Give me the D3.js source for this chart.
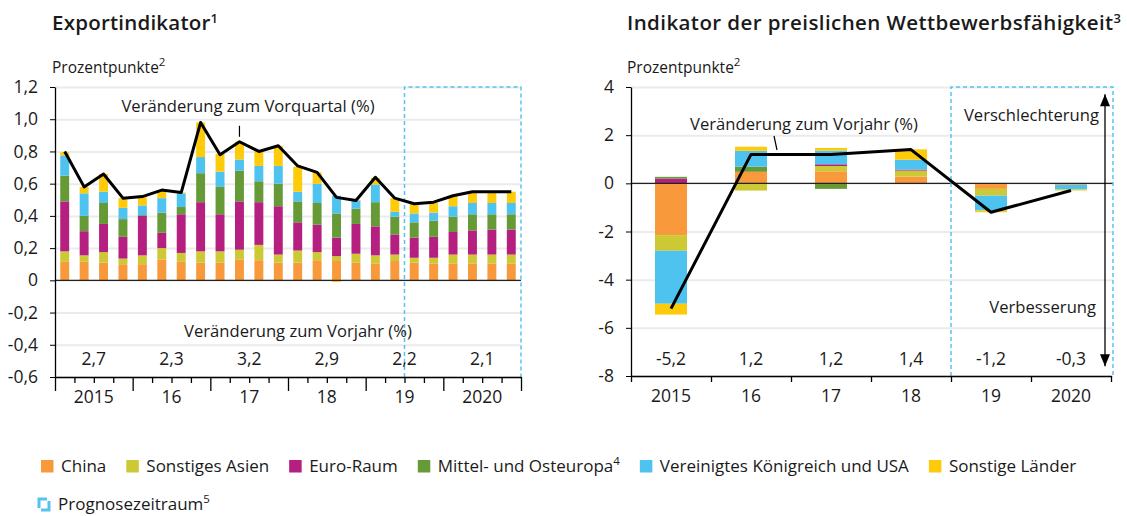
<!DOCTYPE html>
<html>
<head>
<meta charset="utf-8">
<script src="https://cdn.jsdelivr.net/npm/d3@7"></script>
<style>
  body { margin: 0; background: #fff; }
  svg text { font-family: "Open Sans", "DejaVu Sans", sans-serif; fill: #1a1a1a; }
</style>
</head>
<body>
<div id="chart"></div>
<script>
// categories
const yearLabels = ["2015", "16", "17", "18", "19", "2020"];
const quarters = ["2015", "2016", "2017", "2018", "2019", "2020"]
    .flatMap(y => ["Q1", "Q2", "Q3", "Q4"].map(q => y + q));
const seriesKeys = ["china", "asien", "euro", "moe", "ukusa", "sonst"];
const seriesNames = ["China", "Sonstiges Asien", "Euro-Raum", "Mittel- und Osteuropa", "Vereinigtes Königreich und USA", "Sonstige Länder"];
const seriesSup = ["", "", "", "4", "", ""];
const colors = ["#f89a3b", "#cdc935", "#b41f80", "#669a36", "#4fc3ef", "#fecb0a"];

// Exportindikator, contributions per quarter (Prozentpunkte)
const exChina = [0.115, 0.115, 0.11, 0.10, 0.10, 0.13, 0.115, 0.11, 0.11, 0.13, 0.125, 0.11, 0.11, 0.125, 0.12, 0.11, 0.105, 0.12, 0.11, 0.105, 0.105, 0.105, 0.105, 0.105];
const exAsien = [0.065, 0.04, 0.065, 0.035, 0.055, 0.07, 0.055, 0.07, 0.07, 0.06, 0.095, 0.05, 0.075, 0.05, 0.03, 0.055, 0.05, 0.04, 0.03, 0.035, 0.055, 0.055, 0.055, 0.055];
const exEuro = [0.31, 0.15, 0.175, 0.135, 0.245, 0.095, 0.24, 0.305, 0.23, 0.30, 0.265, 0.30, 0.175, 0.17, 0.115, 0.185, 0.18, 0.125, 0.125, 0.13, 0.14, 0.15, 0.155, 0.155];
const exMoe = [0.16, 0.095, 0.13, 0.11, 0.005, 0.125, 0.045, 0.18, 0.17, 0.19, 0.13, 0.14, 0.13, 0.135, 0.15, 0.095, 0.15, 0.11, 0.095, 0.10, 0.095, 0.10, 0.095, 0.095];
const exUkUsa = [0.125, 0.14, 0.07, 0.07, 0.06, 0.09, 0.085, 0.10, 0.095, 0.07, 0.095, 0.11, 0.06, 0.12, 0.11, 0.05, 0.11, 0.03, 0.055, 0.05, 0.065, 0.07, 0.07, 0.07];
const exSonst = [0.02, 0.04, 0.11, 0.06, 0.05, 0.05, 0.005, 0.215, 0.11, 0.11, 0.09, 0.125, 0.155, 0.07, -0.01, 0.005, 0.04, 0.085, 0.06, 0.06, 0.065, 0.07, 0.07, 0.07];
const exTotal = [0.80, 0.58, 0.66, 0.51, 0.52, 0.56, 0.545, 0.98, 0.78, 0.86, 0.80, 0.835, 0.71, 0.67, 0.515, 0.495, 0.64, 0.51, 0.475, 0.485, 0.525, 0.55, 0.55, 0.55];
const exYearly = [2.7, 2.3, 3.2, 2.9, 2.2, 2.1];
const exForecastFrom = 18; // 2019Q3

// Preisliche Wettbewerbsfaehigkeit, contributions per year
const wbChina = [-2.15, 0.48, 0.50, 0.28, -0.23, -0.06];
const wbAsien = [-0.65, -0.30, 0.22, 0.25, -0.28, 0];
const wbEuro = [0.20, 0, 0.07, 0.04, 0, 0];
const wbMoe = [0.07, 0.21, -0.23, 0, 0, 0];
const wbUkUsa = [-2.20, 0.66, 0.57, 0.41, -0.62, -0.20];
const wbSonst = [-0.45, 0.17, 0.11, 0.43, -0.07, -0.04];
const wbTotal = [-5.2, 1.2, 1.2, 1.4, -1.2, -0.3];
const wbForecastFrom = 4; // 2019

const exTicks = d3.range(-0.6, 1.21, 0.2).map(v => +v.toFixed(1));
const wbTicks = d3.range(-8, 5, 2);

const W = 1127, H = 516;
const gridColor = "#ebebeb";
const forecastColor = "#55c3ee";
const textSize = "16.6px";
const legendSize = "17px";
const numSize = "17.5px";
const comma = v => v === 0 ? "0" : v.toFixed(1).replace(".", ",");

const svg = d3.select("#chart").append("svg")
    .attr("width", W).attr("height", H);

function addSup(textSel, sup, size) {
    if (!sup) return;
    textSel.append("tspan").attr("dy", -7).attr("font-size", size || "11.5px").text(sup);
}

function drawPanel(cfg) {
    const g = svg.append("g");
    const [x0, x1] = cfg.xRange;
    const y = d3.scaleLinear().domain(cfg.yDomain).range(cfg.yRange);
    const n = cfg.cats.length;
    const x = d3.scaleBand().domain(cfg.cats).range([x0, x1])
        .paddingInner(cfg.pad).paddingOuter(cfg.pad / 2);
    const xLin = d3.scaleLinear().domain([0, n]).range([x0, x1]);
    const xYear = d3.scaleBand().domain(yearLabels).range([x0, x1]);

    // title (width fitted to the original)
    const t = g.append("text").attr("x", cfg.titleX).attr("y", 30)
        .attr("font-size", "20.5px").attr("font-weight", 600)
        .attr("textLength", cfg.titleWidth).attr("lengthAdjust", "spacing")
        .text(cfg.title);
    addSup(t, cfg.titleSup, "13px");
    const u = g.append("text").attr("x", cfg.titleX).attr("y", 73)
        .attr("font-size", "15.5px").text("Prozentpunkte");
    addSup(u, "2");

    // grid
    g.append("g")
        .attr("transform", `translate(${x0},0)`)
        .call(d3.axisLeft(y).tickValues(cfg.ticks).tickSize(-(cfg.gridEnd - x0)).tickFormat(""))
        .call(a => a.select(".domain").remove())
        .call(a => a.selectAll("line").attr("stroke", gridColor).attr("stroke-width", 2));

    // stacked bars
    const rows = cfg.cats.map((c, i) => {
        const r = { cat: c };
        seriesKeys.forEach((k, j) => r[k] = cfg.series[j][i]);
        return r;
    });
    const stacked = d3.stack().keys(seriesKeys).offset(d3.stackOffsetDiverging)(rows);
    g.append("g").selectAll("g")
        .data(stacked)
        .join("g")
        .attr("fill", (d, i) => colors[i])
        .selectAll("rect")
        .data(d => d)
        .join("rect")
        .attr("x", d => x(d.data.cat))
        .attr("width", x.bandwidth())
        .attr("y", d => y(Math.max(d[0], d[1])))
        .attr("height", d => Math.abs(y(d[0]) - y(d[1])));

    // zero line
    g.append("line")
        .attr("x1", x0).attr("x2", cfg.gridEnd)
        .attr("y1", y(0)).attr("y2", y(0))
        .attr("stroke", "#222").attr("stroke-width", 1.2);

    // forecast frame
    const fx = xLin(cfg.forecastFrom);
    const yTop = y(cfg.yDomain[1]), yBot = y(cfg.yDomain[0]);
    g.append("path")
        .attr("d", d3.line()([[fx, yBot], [fx, yTop], [cfg.gridEnd, yTop], [cfg.gridEnd, yBot]]))
        .attr("fill", "none").attr("stroke", forecastColor)
        .attr("stroke-width", 1.5).attr("stroke-dasharray", "4,3");

    // total line
    g.append("path")
        .datum(cfg.total.map((v, i) => ({ cat: cfg.cats[i], v })))
        .attr("fill", "none").attr("stroke", "#000").attr("stroke-width", 3)
        .attr("stroke-linejoin", "round")
        .attr("d", d3.line().x(d => x(d.cat) + x.bandwidth() / 2).y(d => y(d.v)));

    // y axis
    g.append("g")
        .attr("transform", `translate(${x0},0)`)
        .call(d3.axisLeft(y).tickValues(cfg.ticks).tickSize(5).tickSizeOuter(0).tickPadding(12).tickFormat(cfg.yFormat))
        .call(a => a.select(".domain").attr("stroke", "#000").attr("stroke-width", 1.3))
        .call(a => a.selectAll("line").attr("stroke", "#000"))
        .call(a => a.selectAll("text").attr("font-size", numSize).attr("font-family", null).attr("fill", "#1a1a1a"));

    // x axis with boundary ticks
    g.append("g")
        .attr("transform", `translate(0,${yBot})`)
        .call(d3.axisBottom(xLin).tickValues(d3.range(n + 1)).tickSizeOuter(0).tickFormat(""))
        .call(a => a.select(".domain").attr("stroke", "#000").attr("stroke-width", 1.3))
        .call(a => a.selectAll(".tick line").attr("stroke", "#000").attr("stroke-width", 1.3)
            .attr("y2", d => d % cfg.majorEvery === 0 ? cfg.majorLen : 6));

    // year labels
    g.append("g")
        .attr("transform", `translate(0,${yBot})`)
        .call(d3.axisBottom(xYear).tickSize(0).tickPadding(14))
        .call(a => a.select(".domain").remove())
        .call(a => a.selectAll("text").attr("font-size", numSize).attr("font-family", null).attr("fill", "#1a1a1a"));

    // yearly values row
    g.append("g").selectAll("text")
        .data(cfg.yearly)
        .join("text")
        .attr("x", (d, i) => xYear(yearLabels[i]) + xYear.bandwidth() / 2)
        .attr("y", 365)
        .attr("text-anchor", "middle").attr("font-size", numSize)
        .text(d => comma(d));

    return { x, y, xLin, g };
}

// left panel
const left = drawPanel({
    title: "Exportindikator", titleSup: "1", titleX: 52, titleWidth: 166,
    cats: quarters, xRange: [55, 521], gridEnd: 521, pad: 0.54,
    yDomain: [-0.6, 1.2], yRange: [377, 87], ticks: exTicks, yFormat: comma,
    series: [exChina, exAsien, exEuro, exMoe, exUkUsa, exSonst],
    total: exTotal, yearly: exYearly, forecastFrom: exForecastFrom,
    majorEvery: 4, majorLen: 14
});

left.g.append("text").attr("x", 248).attr("y", 112)
    .attr("text-anchor", "middle").attr("font-size", textSize)
    .text("Veränderung zum Vorquartal (%)");
{
    const lx = left.x(quarters[9]) + left.x.bandwidth() / 2;
    const ly = left.y(exTotal[9]);
    left.g.append("line").attr("x1", lx).attr("x2", lx)
        .attr("y1", ly - 16).attr("y2", ly - 5)
        .attr("stroke", "#000").attr("stroke-width", 1.2);
}
left.g.append("text").attr("x", 298).attr("y", 337)
    .attr("text-anchor", "middle").attr("font-size", textSize)
    .text("Veränderung zum Vorjahr (%)");

// right panel
const right = drawPanel({
    title: "Indikator der preislichen Wettbewerbsfähigkeit", titleSup: "3", titleX: 627, titleWidth: 494,
    cats: yearLabels, xRange: [631, 1111], gridEnd: 1113, pad: 0.6,
    yDomain: [-8, 4], yRange: [376, 87], ticks: wbTicks, yFormat: d => String(d),
    series: [wbChina, wbAsien, wbEuro, wbMoe, wbUkUsa, wbSonst],
    total: wbTotal, yearly: wbTotal, forecastFrom: wbForecastFrom,
    majorEvery: 1, majorLen: 6
});

right.g.append("text").attr("x", 804).attr("y", 130)
    .attr("text-anchor", "middle").attr("font-size", textSize)
    .text("Veränderung zum Vorjahr (%)");
right.g.append("line")
    .attr("x1", 774).attr("y1", 136).attr("x2", 777).attr("y2", 150)
    .attr("stroke", "#000").attr("stroke-width", 1.2);

// improvement / deterioration arrow
const ax = 1105;
right.g.append("line").attr("x1", ax).attr("x2", ax)
    .attr("y1", right.y(3.7)).attr("y2", right.y(-7.6))
    .attr("stroke", "#000").attr("stroke-width", 1.3);
right.g.append("path")
    .attr("d", `M${ax - 5},${right.y(3.7) + 12}L${ax},${right.y(3.7)}L${ax + 5},${right.y(3.7) + 12}Z`)
    .attr("fill", "#000");
right.g.append("path")
    .attr("d", `M${ax - 5},${right.y(-7.6) - 12}L${ax},${right.y(-7.6)}L${ax + 5},${right.y(-7.6) - 12}Z`)
    .attr("fill", "#000");
right.g.append("text").attr("x", 1099).attr("y", 121)
    .attr("text-anchor", "end").attr("font-size", textSize).text("Verschlechterung");
right.g.append("text").attr("x", 1096).attr("y", 313)
    .attr("text-anchor", "end").attr("font-size", textSize).text("Verbesserung");

// legend
const legend = svg.append("g").attr("transform", "translate(41,0)");
let lx = 0;
seriesNames.forEach((name, i) => {
    const item = legend.append("g").attr("transform", `translate(${lx},0)`);
    item.append("rect").attr("x", 0).attr("y", 460).attr("width", 12.5).attr("height", 12.5)
        .attr("fill", colors[i]);
    const txt = item.append("text").attr("x", 20).attr("y", 472).attr("font-size", legendSize).text(name);
    addSup(txt, seriesSup[i]);
    lx += 20 + txt.node().getComputedTextLength() + 20;
});

const prog = svg.append("g");
prog.append("path")
    .attr("d", "M39,508L39,499L47,499 M49,501L49,510L41,510")
    .attr("fill", "none").attr("stroke", forecastColor).attr("stroke-width", 3);
const pt = prog.append("text").attr("x", 58).attr("y", 510).attr("font-size", legendSize).text("Prognosezeitraum");
addSup(pt, "5");
</script>
</body>
</html>
